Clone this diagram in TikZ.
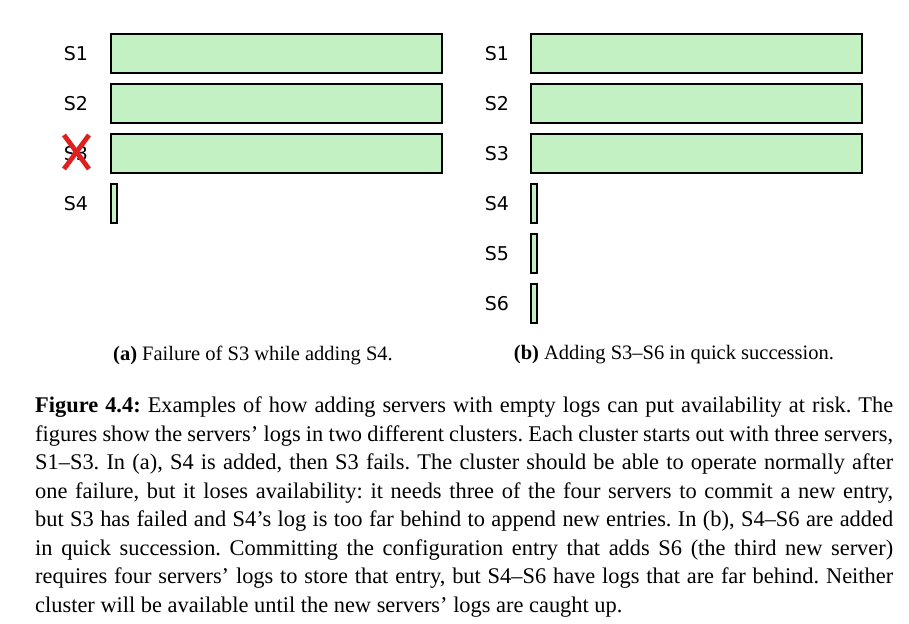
\documentclass[tikz,border=0pt]{standalone}
\usepackage{fontspec}
\usepackage{tikz}
\setmainfont{Liberation Serif}
\newfontfamily\labelfont{DejaVu Sans}
\definecolor{logfill}{RGB}{195,241,195}
\definecolor{failred}{RGB}{222,32,32}

\tikzset{
  LogStyle/.style={draw=black,line width=2.4pt,fill=logfill},
  ServerStyle/.style={font=\labelfont\fontsize{19}{22}\selectfont,inner sep=0pt},
  SubStyle/.style={font=\fontsize{20.5}{24}\selectfont,inner sep=0pt},
}

\begin{document}
\frenchspacing
\begin{tikzpicture}[x=1pt,y=-1pt]
\useasboundingbox (0,0) rectangle (909,623);

\node[ServerStyle] (a1) at (76,53.5) {S1};
\node[ServerStyle] (a2) at (76,103.5) {S2};
\node[ServerStyle] (a3) at (76,153.5) {S3};
\node[ServerStyle] (a4) at (76,203.5) {S4};

\draw[LogStyle] (111,34) rectangle (442,73);
\draw[LogStyle] (111,84) rectangle (442,123);
\draw[LogStyle] (111,134) rectangle (442,173);
\draw[LogStyle] (111,184) rectangle (117,223);

\draw[failred,line width=4.8pt] (64,135) -- (89,169);
\draw[failred,line width=4.8pt] (89,135) -- (64,169);

\node[ServerStyle] (b1) at (497,53.5) {S1};
\node[ServerStyle] (b2) at (497,103.5) {S2};
\node[ServerStyle] (b3) at (497,153.5) {S3};
\node[ServerStyle] (b4) at (497,203.5) {S4};
\node[ServerStyle] (b5) at (497,253.5) {S5};
\node[ServerStyle] (b6) at (497,303.5) {S6};

\draw[LogStyle] (531,34) rectangle (862,73);
\draw[LogStyle] (531,84) rectangle (862,123);
\draw[LogStyle] (531,134) rectangle (862,173);
\draw[LogStyle] (531,184) rectangle (537,223);
\draw[LogStyle] (531,234) rectangle (537,273);
\draw[LogStyle] (531,284) rectangle (537,323);

\node[SubStyle] (capa) at (253,355) {\textbf{(a)} Failure of S3 while adding S4.};
\node[SubStyle] (capb) at (674,355) {\textbf{(b)} Adding S3--S6 in quick succession.};

\node[anchor=north west,inner sep=0pt,text width=858pt,align=justify,
      font=\fontsize{22.4}{28.5}\selectfont] (caption) at (35,397)
  {\textbf{Figure 4.4:} Examples of how adding servers with empty logs can put availability at risk. The\linebreak
   figures show the servers’ logs in two different clusters. Each cluster starts out with three servers,\linebreak
   S1--S3. In (a), S4 is added, then S3 fails. The cluster should be able to operate normally after\linebreak
   one failure, but it loses availability: it needs three of the four servers to commit a new entry,\linebreak
   but S3 has failed and S4’s log is too far behind to append new entries. In (b), S4--S6 are added\linebreak
   in quick succession. Committing the configuration entry that adds S6 (the third new server)\linebreak
   requires four servers’ logs to store that entry, but S4--S6 have logs that are far behind. Neither\linebreak
   cluster will be available until the new servers’ logs are caught up.};

\end{tikzpicture}
\end{document}
